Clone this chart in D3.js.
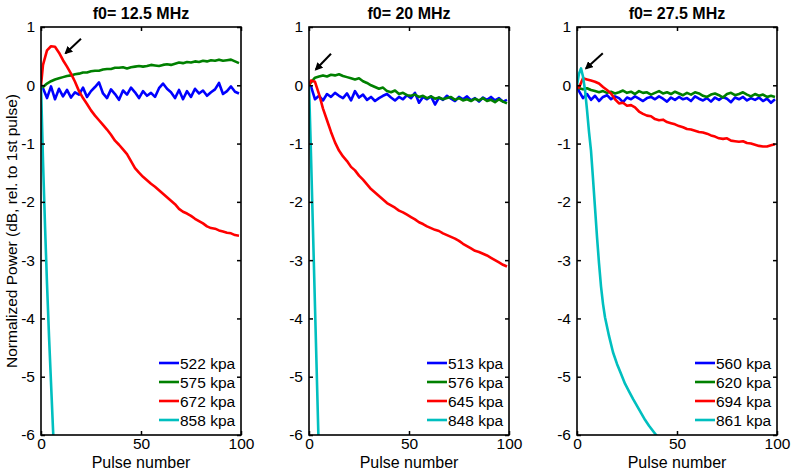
<!DOCTYPE html>
<html>
<head>
<meta charset="utf-8">
<script src="https://cdn.jsdelivr.net/npm/d3@7"></script>
<style>
  body { margin: 0; background: #fff; }
  text { font-family: Arial, "Liberation Sans", sans-serif; }
</style>
</head>
<body>
<div class="chart"></div>
<script>
// pulse numbers shared by the noisy series (0, then every other pulse)
const pulseGrid = [0, 1, 3, 5, 7, 9, 11, 13, 15, 17, 19, 21, 23, 25, 27, 29, 31, 33, 35, 37, 39,
  41, 43, 45, 47, 49, 51, 53, 55, 57, 59, 61, 63, 65, 67, 69, 71, 73, 75, 77, 79,
  81, 83, 85, 87, 89, 91, 93, 95, 97, 99];

const titles = ['f0= 12.5 MHz', 'f0= 20 MHz', 'f0= 27.5 MHz'];
const legendLabels = [
  ['522 kpa', '575 kpa', '672 kpa', '858 kpa'],
  ['513 kpa', '576 kpa', '645 kpa', '848 kpa'],
  ['560 kpa', '620 kpa', '694 kpa', '861 kpa']
];
const colors = ['#0000ff', '#008000', '#ff0000', '#00bfbf'];
const yTicks = [-6, -5, -4, -3, -2, -1, 0, 1];
const xTicks = [0, 50, 100];

// f0 = 12.5 MHz
const blue1 = [0, -0.05, -0.22, -0.02, -0.24, -0.06, -0.19, -0.08, -0.21, -0.12, -0.16, -0.04, -0.2, -0.1, -0.03, 0.05,
  -0.14, -0.22, -0.07, -0.15, -0.25, -0.09, -0.16, -0.04, -0.12, -0.22, -0.1, -0.18, -0.13, -0.2, -0.05,
  0.03, -0.06, -0.12, -0.22, -0.08, -0.24, -0.1, -0.2, -0.06, -0.14, -0.09, -0.18, -0.12, -0.07, 0.04,
  -0.15, -0.1, -0.02, -0.11, -0.14];
const green1 = [0, -0.03, 0.03, 0.07, 0.1, 0.12, 0.14, 0.16, 0.17, 0.19, 0.2, 0.22, 0.22, 0.24, 0.25, 0.25,
  0.27, 0.28, 0.28, 0.3, 0.3, 0.31, 0.29, 0.31, 0.32, 0.33, 0.32, 0.33, 0.35, 0.34, 0.33,
  0.35, 0.36, 0.35, 0.37, 0.39, 0.38, 0.4, 0.39, 0.41, 0.4, 0.42, 0.41, 0.43, 0.42, 0.44,
  0.42, 0.43, 0.44, 0.41, 0.38];
const red1 = [0, 0.35, 0.6, 0.67, 0.66, 0.56, 0.43, 0.32, 0.2, 0.06, -0.1, -0.22, -0.32, -0.43, -0.52, -0.6,
  -0.68, -0.76, -0.85, -0.95, -1.02, -1.1, -1.18, -1.3, -1.42, -1.5, -1.57, -1.63, -1.69, -1.74, -1.8,
  -1.86, -1.92, -1.98, -2.04, -2.12, -2.17, -2.2, -2.24, -2.29, -2.33, -2.37, -2.42, -2.45, -2.46, -2.49,
  -2.51, -2.53, -2.54, -2.57, -2.58];
const cyanPulses1 = [0, 1, 2, 3, 4, 5, 6, 7];
const cyan1 = [0, -1.3, -2.4, -3.4, -4.3, -5.1, -5.9, -6.6];

// f0 = 20 MHz
const blue2 = [0, -0.02, -0.24, -0.18, -0.26, -0.15, -0.2, -0.13, -0.18, -0.22, -0.14, -0.26, -0.1, -0.21, -0.16, -0.25,
  -0.2, -0.27, -0.22, -0.18, -0.15, -0.21, -0.26, -0.2, -0.24, -0.17, -0.22, -0.13, -0.3, -0.2, -0.24,
  -0.19, -0.33, -0.21, -0.25, -0.18, -0.23, -0.27, -0.2, -0.24, -0.19, -0.26, -0.22, -0.28, -0.21, -0.25,
  -0.2, -0.26, -0.22, -0.28, -0.25];
const green2 = [0, 0.05, 0.13, 0.15, 0.17, 0.15, 0.18, 0.17, 0.19, 0.16, 0.14, 0.12, 0.1, 0.12, 0.07, 0.04,
  0.0, -0.03, -0.06, -0.04, -0.1, -0.12, -0.09, -0.15, -0.13, -0.17, -0.18, -0.16, -0.2, -0.18, -0.22,
  -0.19, -0.23, -0.21, -0.24, -0.22, -0.2, -0.25, -0.22, -0.26, -0.24, -0.27, -0.23, -0.26, -0.22, -0.27,
  -0.25, -0.29, -0.24, -0.28, -0.31];
const red2 = [0, 0.08, 0.06, -0.15, -0.4, -0.6, -0.8, -0.98, -1.12, -1.22, -1.3, -1.4, -1.46, -1.55, -1.62, -1.7,
  -1.78, -1.84, -1.9, -1.96, -2.02, -2.06, -2.1, -2.15, -2.18, -2.22, -2.26, -2.3, -2.35, -2.38, -2.42,
  -2.45, -2.48, -2.5, -2.54, -2.57, -2.6, -2.63, -2.67, -2.72, -2.76, -2.8, -2.84, -2.86, -2.89, -2.92,
  -2.96, -3.0, -3.04, -3.08, -3.11];
const cyanPulses2 = [0, 1, 2, 3, 4, 5];
const cyan2 = [0, -1.2, -2.5, -3.8, -5.1, -6.4];

// f0 = 27.5 MHz
const blue3 = [0, -0.1, -0.22, -0.15, -0.25, -0.18, -0.27, -0.2, -0.17, -0.24, -0.19, -0.22, -0.29, -0.21, -0.24, -0.19,
  -0.23, -0.27, -0.22, -0.2, -0.24, -0.19, -0.23, -0.28, -0.21, -0.25, -0.2, -0.24, -0.22, -0.27, -0.19,
  -0.23, -0.26, -0.22, -0.28, -0.21, -0.25, -0.2, -0.23, -0.29, -0.21, -0.24, -0.2, -0.26, -0.22, -0.25,
  -0.21, -0.27, -0.23, -0.3, -0.24];
const green3 = [0, -0.05, -0.07, -0.05, -0.08, -0.1, -0.12, -0.1, -0.13, -0.11, -0.14, -0.12, -0.09, -0.13, -0.11, -0.15,
  -0.1, -0.13, -0.12, -0.16, -0.13, -0.1, -0.14, -0.12, -0.15, -0.11, -0.14, -0.17, -0.13, -0.16, -0.12,
  -0.14, -0.18, -0.2, -0.16, -0.14, -0.17, -0.21, -0.15, -0.13, -0.17, -0.15, -0.12, -0.16, -0.19, -0.15,
  -0.18, -0.16, -0.2, -0.18, -0.2];
const red3 = [0, -0.04, 0.12, 0.1, 0.08, 0.06, 0.03, -0.03, -0.08, -0.14, -0.24, -0.31, -0.3, -0.35, -0.34, -0.38,
  -0.45, -0.49, -0.52, -0.53, -0.58, -0.6, -0.59, -0.63, -0.65, -0.67, -0.7, -0.72, -0.75, -0.76, -0.78,
  -0.8, -0.81, -0.83, -0.86, -0.88, -0.91, -0.92, -0.91, -0.95, -0.96, -0.97, -0.96, -0.99, -1.0, -1.02,
  -1.04, -1.05, -1.05, -1.03, -1.01];
const cyanPulses3 = [0, 1, 2, 3, 4, 5, 6, 7, 8, 9, 10, 11, 12, 13, 14, 16, 18, 20, 22, 24, 26, 28, 30, 32, 34, 36, 38, 40, 42];
const cyan3 = [0, 0.2, 0.29, 0.15, -0.08, -0.42, -0.8, -1.12, -1.6, -2.1, -2.6, -3.05, -3.45, -3.75, -3.98,
  -4.3, -4.58, -4.78, -4.95, -5.12, -5.25, -5.38, -5.5, -5.62, -5.74, -5.84, -5.93, -6.02, -6.1];

// arrows: [tail pulse, tail dB, head pulse, head dB]
const arrows = [[20, 0.8, 12.3, 0.55], [11, 0.54, 3.4, 0.27], [12.9, 0.55, 4.5, 0.29]];

const seriesByPanel = [
  [[pulseGrid, blue1], [pulseGrid, green1], [pulseGrid, red1], [cyanPulses1, cyan1]],
  [[pulseGrid, blue2], [pulseGrid, green2], [pulseGrid, red2], [cyanPulses2, cyan2]],
  [[pulseGrid, blue3], [pulseGrid, green3], [pulseGrid, red3], [cyanPulses3, cyan3]]
];

const width = 795, height = 474;
const panelLeft = [41, 309, 577];
const panelW = 200, panelTop = 27, panelH = 408;

var svg = d3.select(".chart").append("svg")
  .attr("width", width)
  .attr("height", height);

svg.append("defs").append("marker")
  .attr("id", "head")
  .attr("viewBox", "0 0 10 10")
  .attr("refX", 8).attr("refY", 5)
  .attr("markerWidth", 4).attr("markerHeight", 4)
  .attr("orient", "auto")
  .append("path")
  .attr("d", "M0,0 L10,5 L0,10 z")
  .attr("fill", "black");

panelLeft.forEach((left, i) => {
  const g = svg.append("g").attr("transform", "translate(" + left + "," + panelTop + ")");

  const xScale = d3.scaleLinear().domain([0, 100]).range([0, panelW]);
  const yScale = d3.scaleLinear().domain([-6, 1]).range([panelH, 0]);

  g.append("clipPath").attr("id", "clip" + i)
    .append("rect").attr("width", panelW).attr("height", panelH);

  const line = d3.line()
    .x(d => xScale(d[0]))
    .y(d => yScale(d[1]));

  seriesByPanel[i].forEach((s, j) => {
    const pts = s[0].map((p, k) => [p, s[1][k]]);
    g.append("path")
      .datum(pts)
      .attr("clip-path", "url(#clip" + i + ")")
      .attr("fill", "none")
      .attr("stroke", colors[j])
      .attr("stroke-width", 2.6)
      .attr("stroke-linejoin", "round")
      .attr("d", line);
  });

  // axes, ticks pointing inward like matlab
  const yAxis = d3.axisLeft(yScale).tickValues(yTicks).tickSizeInner(-4).tickSizeOuter(0)
    .tickPadding(6).tickFormat(d => String(d));
  const yAxisR = d3.axisRight(yScale).tickValues(yTicks).tickSizeInner(-4).tickSizeOuter(0).tickFormat("");
  const xAxis = d3.axisBottom(xScale).tickValues(xTicks).tickSizeInner(-4).tickSizeOuter(0).tickPadding(3);
  const xAxisT = d3.axisTop(xScale).tickValues(xTicks).tickSizeInner(-4).tickSizeOuter(0).tickFormat("");

  g.append("g").attr("class", "axis y-axis").call(yAxis);
  g.append("g").attr("class", "axis").attr("transform", "translate(" + panelW + ",0)").call(yAxisR);
  g.append("g").attr("class", "axis x-axis").attr("transform", "translate(0," + panelH + ")").call(xAxis);
  g.append("g").attr("class", "axis").call(xAxisT);

  g.selectAll(".axis .domain").remove();
  g.selectAll(".axis line").attr("stroke-width", 1.5);
  g.selectAll(".axis text")
    .attr("font-size", 15.5)
    .attr("font-family", "Arial, 'Liberation Sans', sans-serif")
    .attr("fill", "black");

  g.append("rect")
    .attr("width", panelW).attr("height", panelH)
    .attr("fill", "none").attr("stroke", "black").attr("stroke-width", 1.6);

  g.append("text")
    .attr("x", panelW / 2).attr("y", -8)
    .attr("text-anchor", "middle")
    .attr("font-size", 16).attr("font-weight", "bold")
    .text(titles[i]);

  g.append("text")
    .attr("x", panelW / 2).attr("y", panelH + 33)
    .attr("text-anchor", "middle")
    .attr("font-size", 16)
    .text("Pulse number");

  // arrow annotation
  const a = arrows[i];
  g.append("line")
    .attr("x1", xScale(a[0])).attr("y1", yScale(a[1]))
    .attr("x2", xScale(a[2])).attr("y2", yScale(a[3]))
    .attr("stroke", "black").attr("stroke-width", 2)
    .attr("marker-end", "url(#head)");

  // legend
  const leg = g.append("g").attr("transform", "translate(" + (panelW - 82) + "," + 336 + ")");
  legendLabels[i].forEach((lab, j) => {
    leg.append("line")
      .attr("x1", 0).attr("x2", 20)
      .attr("y1", j * 19).attr("y2", j * 19)
      .attr("stroke", colors[j]).attr("stroke-width", 2.6);
    leg.append("text")
      .attr("x", 21).attr("y", j * 19 + 5.5)
      .attr("font-size", 15.5)
      .text(lab);
  });
});

svg.append("text")
  .attr("transform", "translate(17," + (panelTop + panelH / 2) + ") rotate(-90)")
  .attr("text-anchor", "middle")
  .attr("font-size", 15.5)
  .text("Normalized Power (dB, rel. to 1st pulse)");
</script>
</body>
</html>
